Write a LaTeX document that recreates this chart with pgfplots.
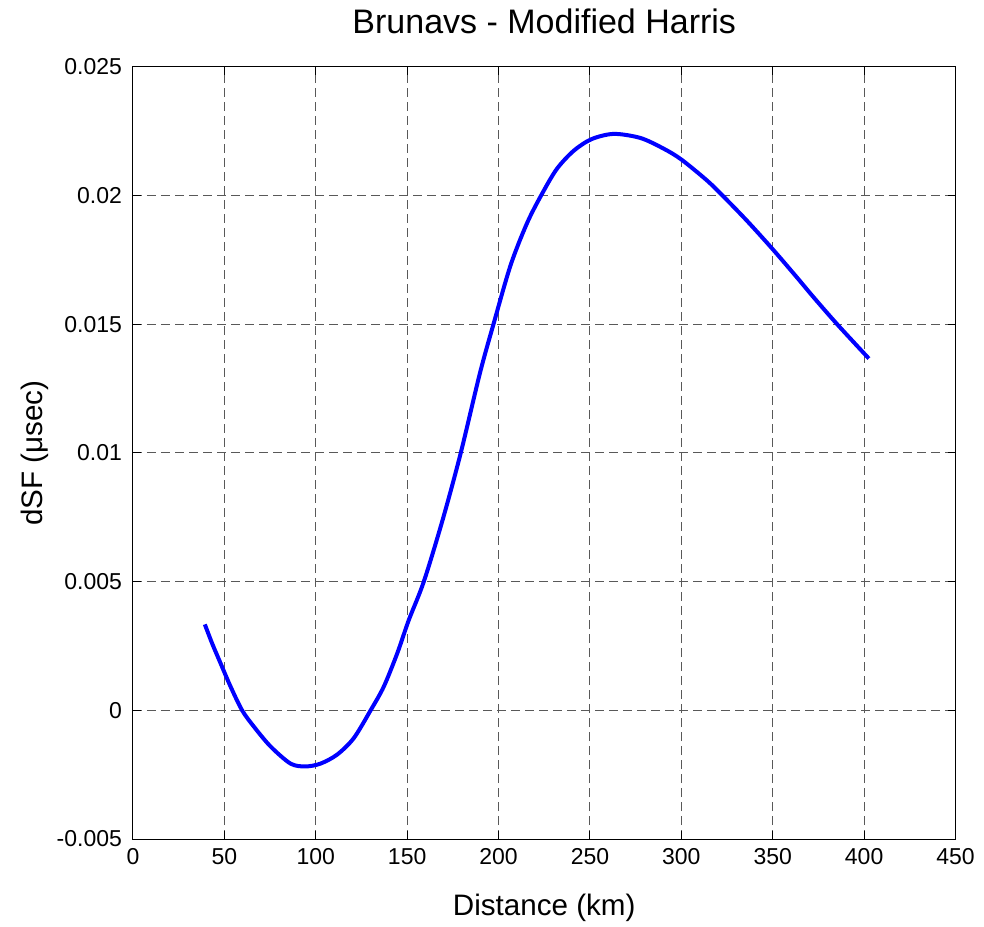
\documentclass[border=0pt]{standalone}
\usepackage{pgfplots}
\pgfplotsset{compat=1.18}
\usepackage{fontspec}
\setmainfont{Liberation Sans}

\begin{document}
\begin{tikzpicture}
\useasboundingbox (-66.5pt,-43.5pt) rectangle (425.5pt,419.5pt);
\begin{axis}[
  scale only axis,
  width=411.25pt, height=386pt,
  xmin=0, xmax=450, ymin=-0.005, ymax=0.025,
  xtick={0,50,...,450},
  xticklabels={0,50,100,150,200,250,300,350,400,450},
  ytick={-0.005,0,0.005,0.01,0.015,0.02,0.025},
  yticklabels={-0.005,0,0.005,0.01,0.015,0.02,0.025},
  scaled ticks=false,
  tick align=inside,
  major tick length=4pt,
  tick style={black, line width=0.5pt},
  axis line style={line width=0.5pt},
  ticklabel style={font=\fontsize{11.5}{13}\selectfont},
  xticklabel style={yshift=-1pt},
  yticklabel style={xshift=-2pt},
  grid=major,
  major grid style={black!65, line width=0.5pt, dash pattern=on 4.5pt off 2.5pt},
  title={Brunavs - Modified Harris},
  title style={font=\fontsize{17}{20}\selectfont, at={(axis description cs:0.5,1.044)}, anchor=center},
  xlabel={Distance (km)},
  xlabel style={font=\fontsize{14.8}{17}\selectfont, at={(axis description cs:0.5,-0.0894)}, anchor=center},
  ylabel={dSF (μsec)},
  ylabel style={font=\fontsize{14.8}{17}\selectfont, at={(axis description cs:-0.119,0.5)}, anchor=center},
]
\addplot[blue, line width=2pt, smooth, tension=0.5] coordinates {
(39.3,0.00334) (43.3,0.0026) (47.9,0.00183) (53.4,0.00092) (59.7,0.0)
(66.1,-0.00063) (75.2,-0.0014) (86.2,-0.00207) (94.4,-0.00218) (102.6,-0.00207)
(111.7,-0.00172) (120.8,-0.00108) (130.0,0.0) (137.2,0.00092) (144.6,0.00222)
(150.9,0.00351) (159.1,0.005) (169.4,0.0074) (179.2,0.00997) (189.8,0.01310)
(197.2,0.01500) (206.6,0.01730) (215.7,0.01895) (224.0,0.02010) (232.0,0.02105)
(241.2,0.02175) (251.0,0.02220) (263.1,0.0224) (277.7,0.02224) (290.5,0.02182)
(300.1,0.02140) (314.2,0.02058) (323.3,0.01995) (336.1,0.01901) (350.1,0.01791)
(363.4,0.01681) (372.5,0.01604) (385.3,0.01500) (402.6,0.01367)
};
\end{axis}
\end{tikzpicture}
\end{document}
